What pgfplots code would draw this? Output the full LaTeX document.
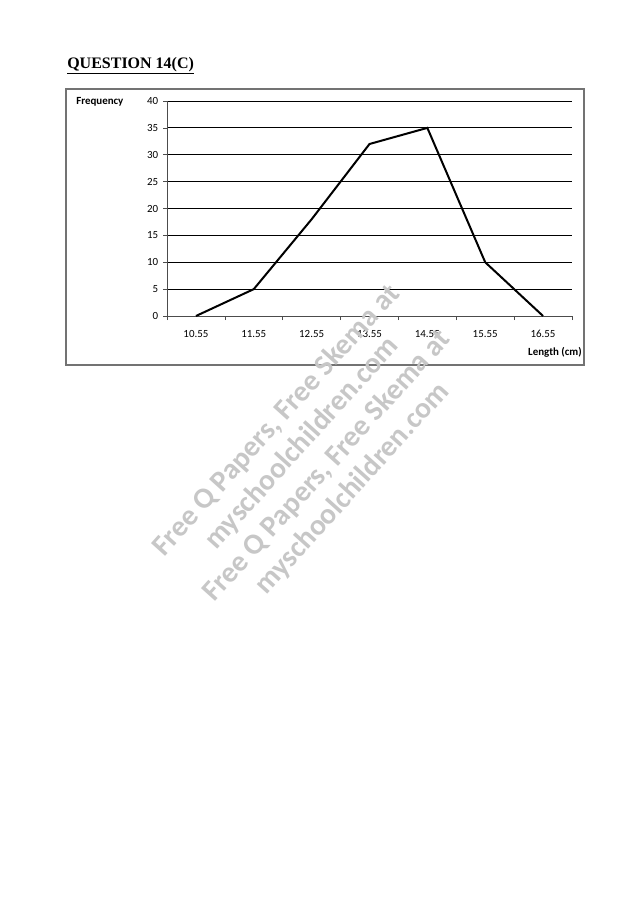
\documentclass[border=0pt]{standalone}
\usepackage{pgfplots}
\pgfplotsset{compat=1.18}
\usepackage{fontspec}
\setmainfont{Carlito}
\newfontfamily\timesfont{Liberation Serif}
\begin{document}
\begin{tikzpicture}
\path[fill=white] (0pt,0pt) rectangle (478.5pt,-672.75pt);
\node[anchor=base west,inner sep=0pt] at (50.25pt,-51pt) {\timesfont\bfseries\fontsize{12pt}{14pt}\selectfont\underline{QUESTION 14(C)}};
\draw[black!55,line width=0.8pt] (49.5pt,-66.75pt) rectangle (438pt,-273.75pt);
\begin{axis}[
  at={(125.25pt,-237pt)}, anchor=south west,
  scale only axis, width=303.75pt, height=161.25pt,
  xmin=-0.5, xmax=6.5, ymin=0, ymax=40,
  axis x line*=bottom, axis y line*=left,
  axis line style={black!70,line width=0.6pt,-},
  xtick={0,...,6},
  xticklabels={10.55,11.55,12.55,13.55,14.55,15.55,16.55},
  major x tick style={draw=none},
  minor xtick={-0.5,0.5,...,6.5},
  minor x tick style={black!70,line width=0.5pt},
  minor tick length=3pt,
  ytick={0,5,...,40},
  ymajorgrids,
  major grid style={black,line width=0.6pt},
  major y tick style={black!70,line width=0.5pt},
  major tick length=3pt,
  tick align=outside,
  tick label style={font=\fontsize{8.2pt}{10pt}\selectfont},
  /pgf/number format/assume math mode=true,
  xticklabel style={yshift=-4pt},
  clip=false,
]
\addplot[black,line width=1.5pt,no markers] coordinates {
  (0,0) (1,5) (2,18) (3,32) (4,35) (5,10) (6,0)
};
\end{axis}
\node[anchor=west,inner sep=0pt,font=\bfseries\fontsize{8.2pt}{10pt}\selectfont] at (57pt,-76.5pt) {Frequency};
\node[anchor=east,inner sep=0pt,font=\bfseries\fontsize{8.2pt}{10pt}\selectfont] at (436.5pt,-264pt) {Length (cm)};
\node[rotate=48,align=center,text=black!22,font=\bfseries\fontsize{22pt}{25.5pt}\selectfont] at (236pt,-341pt)
  {Free Q Papers, Free Skema at\\myschoolchildren.com\\Free Q Papers, Free Skema at\\myschoolchildren.com};
\end{tikzpicture}
\end{document}
